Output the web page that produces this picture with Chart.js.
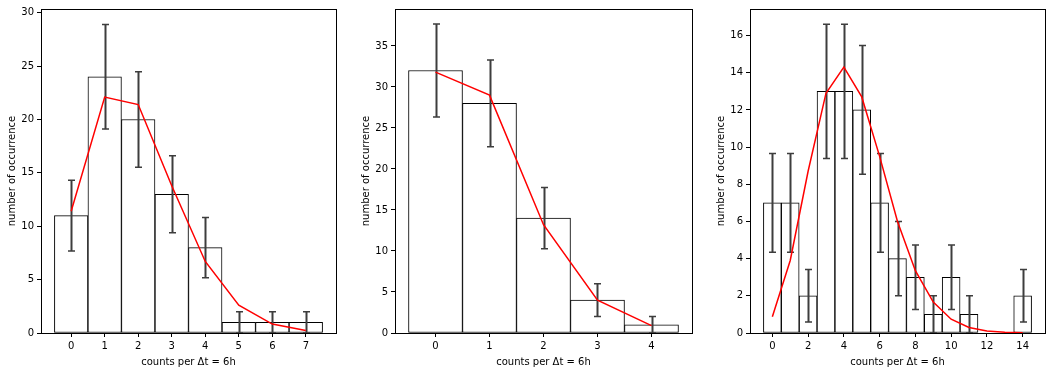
<!DOCTYPE html>
<html>
<head>
<meta charset="utf-8">
<script src="https://cdn.jsdelivr.net/npm/chart.js@4.4.1/dist/chart.umd.min.js"></script>
<style>
    body { margin: 0; background: #fff; }
    .panel { position: absolute; top: 0; height: 375px; }
</style>
</head>
<body>
<div class="panel" style="left:0;width:350px"><canvas id="chart1"></canvas></div>
<div class="panel" style="left:350px;width:350px"><canvas id="chart2"></canvas></div>
<div class="panel" style="left:700px;width:352px"><canvas id="chart3"></canvas></div>
<script>
// Panel 1
const counts1 = [0, 1, 2, 3, 4, 5, 6, 7];
const hist1 = [11, 24, 20, 13, 8, 1, 1, 1];
const err1 = [3.32, 4.9, 4.47, 3.61, 2.83, 1, 1, 1];
const fit1 = [11.4, 22.1, 21.4, 13.8, 6.7, 2.6, 0.84, 0.23];
const xTicks1 = [0, 1, 2, 3, 4, 5, 6, 7];
const yTicks1 = [0, 5, 10, 15, 20, 25, 30];

// Panel 2
const counts2 = [0, 1, 2, 3, 4];
const hist2 = [32, 28, 14, 4, 1];
const err2 = [5.66, 5.29, 3.74, 2, 1];
const fit2 = [31.8, 29.0, 13.2, 4.0, 0.9];
const xTicks2 = [0, 1, 2, 3, 4];
const yTicks2 = [0, 5, 10, 15, 20, 25, 30, 35];

// Panel 3
const counts3 = [0, 1, 2, 3, 4, 5, 6, 7, 8, 9, 10, 11, 12, 13, 14];
const hist3 = [7, 7, 2, 13, 13, 12, 7, 4, 3, 1, 3, 1, 0, 0, 2];
const err3 = [2.65, 2.65, 1.41, 3.61, 3.61, 3.46, 2.65, 2, 1.73, 1, 1.73, 1, 0, 0, 1.41];
const fit3 = [0.87, 3.9, 8.7, 12.9, 14.3, 12.7, 9.5, 6.0, 3.35, 1.66, 0.74, 0.3, 0.11, 0.04, 0.01];
const xTicks3 = [0, 2, 4, 6, 8, 10, 12, 14];
const yTicks3 = [0, 2, 4, 6, 8, 10, 12, 14, 16];

const xLabel = "counts per Δt = 6h";
const yLabel = "number of occurrence";

Chart.defaults.font.family = "'DejaVu Sans', sans-serif";
Chart.defaults.font.size = 10;
Chart.defaults.color = "#000";

// draws error bars right after the bar dataset, before the red line
const errorBarPlugin = {
    id: "errorBars",
    afterDatasetDraw(chart, args) {
        if (args.index !== 0) return;
        const errs = chart.config.options.plugins.errorBars.errors;
        const xs = chart.scales.x, ys = chart.scales.y;
        const ctx = chart.ctx;
        const data = chart.data.datasets[0].data;
        ctx.save();
        ctx.strokeStyle = "#3d3d3d";
        data.forEach((d, i) => {
            const e = errs[i];
            if (!e) return;
            const px = Math.round(xs.getPixelForValue(d.x)) + 0.5;
            const top = ys.getPixelForValue(d.y + e);
            const bot = ys.getPixelForValue(d.y - e);
            ctx.lineWidth = 2;
            ctx.beginPath();
            ctx.moveTo(px, top);
            ctx.lineTo(px, bot);
            ctx.stroke();
            ctx.lineWidth = 1.5;
            ctx.beginPath();
            ctx.moveTo(px - 3.5, top);
            ctx.lineTo(px + 3.5, top);
            ctx.moveTo(px - 3.5, bot);
            ctx.lineTo(px + 3.5, bot);
            ctx.stroke();
        });
        ctx.restore();
    }
};

// box around the plot area like matplotlib spines
const framePlugin = {
    id: "frame",
    afterDraw(chart) {
        const a = chart.chartArea;
        const ctx = chart.ctx;
        ctx.save();
        ctx.strokeStyle = "#000";
        ctx.lineWidth = 1;
        ctx.strokeRect(Math.round(a.left) + 0.5, Math.round(a.top) + 0.5,
            Math.round(a.right - a.left), Math.round(a.bottom - a.top));
        ctx.restore();
    }
};

function makeChart(id, counts, hist, err, fit, xTicks, yTicks, xMin, xMax, yMax, padLeft, padRight) {
    const ctx = document.getElementById(id).getContext("2d");
    return new Chart(ctx, {
        type: "bar",
        data: {
            datasets: [{
                type: "bar",
                order: 2,
                data: counts.map((c, i) => ({ x: c, y: hist[i] })),
                backgroundColor: "#fff",
                borderColor: "#000",
                borderWidth: 1,
                borderSkipped: false,
                barPercentage: 1,
                categoryPercentage: 1
            }, {
                type: "line",
                order: 1,
                data: counts.map((c, i) => ({ x: c, y: fit[i] })),
                borderColor: "#ff0000",
                borderWidth: 1.5,
                pointRadius: 0,
                tension: 0,
                fill: false
            }]
        },
        options: {
            responsive: false,
            animation: false,
            layout: { padding: { left: padLeft, right: padRight, top: 7, bottom: 0 } },
            plugins: {
                legend: { display: false },
                tooltip: { enabled: false },
                errorBars: { errors: err }
            },
            scales: {
                x: {
                    type: "linear",
                    offset: false,
                    min: xMin,
                    max: xMax,
                    afterBuildTicks: (s) => { s.ticks = xTicks.map(v => ({ value: v })); },
                    afterFit: (s) => { s.height = 42; },
                    grid: { offset: false, drawOnChartArea: false, drawTicks: true, tickLength: 4, color: "#000" },
                    border: { display: false },
                    ticks: { padding: 3, maxRotation: 0 },
                    title: { display: true, text: xLabel, padding: { top: 2, bottom: 7 } }
                },
                y: {
                    min: 0,
                    max: yMax,
                    afterBuildTicks: (s) => { s.ticks = yTicks.map(v => ({ value: v })); },
                    afterFit: (s) => { s.width = 39; },
                    grid: { drawOnChartArea: false, drawTicks: true, tickLength: 4, color: "#000" },
                    border: { display: false },
                    ticks: { padding: 3 },
                    title: { display: true, text: yLabel, padding: { top: 4, bottom: 2 } }
                }
            }
        },
        plugins: [errorBarPlugin, framePlugin]
    });
}

function setSize(id, w) {
    const c = document.getElementById(id);
    c.width = w;
    c.height = 375;
    c.style.width = w + "px";
    c.style.height = "375px";
}

setSize("chart1", 350);
setSize("chart2", 350);
setSize("chart3", 352);

makeChart("chart1", counts1, hist1, err1, fit1, xTicks1, yTicks1, -0.9, 7.9, 30.35, 2, 14);
makeChart("chart2", counts2, hist2, err2, fit2, xTicks2, yTicks2, -0.75, 4.75, 39.5, 6, 8);
makeChart("chart3", counts3, hist3, err3, fit3, xTicks3, yTicks3, -1.25, 15.25, 17.43, 11, 7);
</script>
</body>
</html>
